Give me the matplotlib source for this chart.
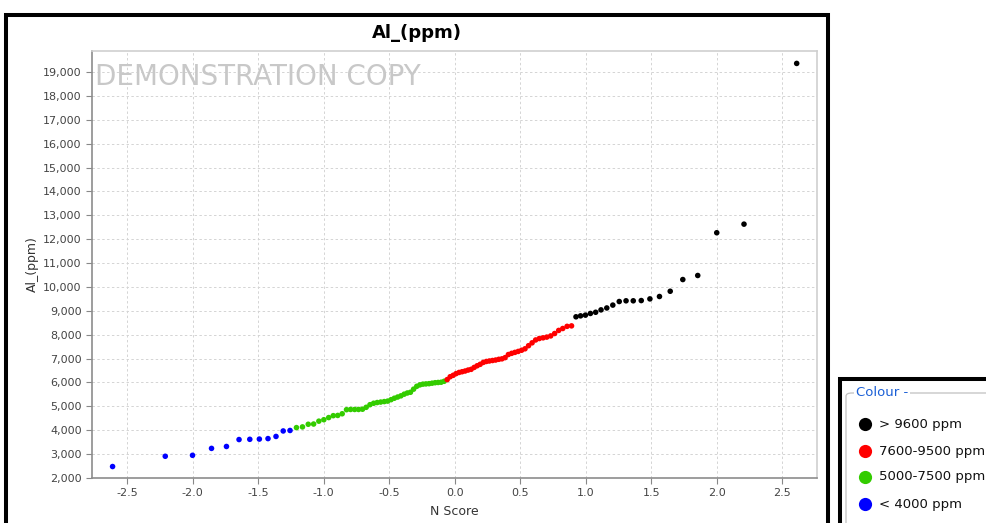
import matplotlib
matplotlib.use("Agg")
import matplotlib.pyplot as plt
from matplotlib.patches import Rectangle, FancyBboxPatch
from matplotlib.lines import Line2D
from matplotlib.ticker import FuncFormatter, MultipleLocator

# N Score (x) and Al_(ppm) (y) per colour class
blue_x = [-2.610, -2.208, -2.000, -1.855, -1.741, -1.645, -1.563, -1.490,
          -1.424, -1.363, -1.308, -1.256]
blue_y = [2480, 2910, 2950, 3240, 3320, 3610, 3620, 3630, 3650, 3740,
          3970, 3990]

green_x = [-1.207, -1.161, -1.117, -1.076, -1.036, -0.998, -0.961, -0.926,
           -0.892, -0.858, -0.825, -0.794, -0.763, -0.733, -0.703, -0.675,
           -0.646, -0.618, -0.591, -0.564, -0.537, -0.511, -0.485, -0.460,
           -0.435, -0.410, -0.385, -0.361, -0.337, -0.313, -0.289, -0.265,
           -0.242, -0.219, -0.195, -0.172, -0.149, -0.126, -0.103, -0.080]
green_y = [4110, 4140, 4250, 4260, 4380, 4440, 4530, 4610, 4620, 4690,
           4860, 4870, 4870, 4870, 4880, 4960, 5070, 5130, 5160, 5180,
           5200, 5220, 5280, 5340, 5390, 5440, 5510, 5560, 5590, 5720,
           5840, 5900, 5930, 5940, 5950, 5970, 5990, 6000, 6010, 6050]

red_x = [-0.057, -0.034, -0.011, 0.011, 0.034, 0.057, 0.080, 0.103,
         0.126, 0.149, 0.172, 0.195, 0.219, 0.242, 0.265, 0.289, 0.313,
         0.337, 0.361, 0.385, 0.410, 0.435, 0.460, 0.485, 0.511, 0.537,
         0.564, 0.591, 0.618, 0.646, 0.675, 0.703, 0.733, 0.763, 0.794,
         0.825, 0.858, 0.892]
red_y = [6120, 6240, 6300, 6370, 6420, 6450, 6480, 6520, 6550, 6630,
         6700, 6760, 6840, 6880, 6900, 6920, 6940, 6970, 6990, 7040,
         7170, 7220, 7260, 7300, 7350, 7410, 7540, 7660, 7780, 7840,
         7870, 7900, 7950, 8050, 8180, 8260, 8350, 8370]

black_x = [0.926, 0.961, 0.998, 1.036, 1.076, 1.117, 1.161, 1.207, 1.256,
           1.308, 1.363, 1.424, 1.490, 1.563, 1.645, 1.741, 1.855, 2.000,
           2.208, 2.610]
black_y = [8750, 8790, 8820, 8890, 8940, 9040, 9120, 9240, 9390, 9420,
           9420, 9430, 9500, 9600, 9820, 10310, 10480, 12270, 12630, 19360]

legend_labels = ["> 9600 ppm", "7600-9500 ppm", "5000-7500 ppm", "< 4000 ppm"]
legend_colors = ["#000000", "#ff0000", "#33cc00", "#0000ff"]

W, H = 987, 523
fig = plt.figure(figsize=(W / 100, H / 100), dpi=100)
fig.patch.set_facecolor("white")

ax = fig.add_axes([92 / W, 1 - 478 / H, (817 - 92) / W, (478 - 51) / H])

for xs, ys, c in [(blue_x, blue_y, "#0000ff"), (green_x, green_y, "#33cc00"),
                  (red_x, red_y, "#ff0000"), (black_x, black_y, "#000000")]:
    ax.scatter(xs, ys, s=16, color=c, edgecolors="none", zorder=3)

ax.set_xlim(-2.767, 2.765)
ax.set_ylim(2000, 19880)
ax.xaxis.set_major_locator(MultipleLocator(0.5))
ax.yaxis.set_major_locator(MultipleLocator(1000))
ax.xaxis.set_major_formatter(FuncFormatter(lambda v, p: f"{v:.1f}"))
ax.yaxis.set_major_formatter(FuncFormatter(lambda v, p: f"{int(v):,}"))
ax.tick_params(labelsize=8, labelcolor="#444444", color="#888888",
               length=4, width=0.8)
ax.grid(True, color="#d4d4d4", linestyle=(0, (2.5, 2.5)), linewidth=0.7)
ax.set_axisbelow(True)
for side in ["left", "bottom"]:
    ax.spines[side].set_color("#8c8c8c")
    ax.spines[side].set_linewidth(1.2)
for side in ["top", "right"]:
    ax.spines[side].set_color("#cfcfcf")
    ax.spines[side].set_linewidth(1.2)

ax.set_xlabel("N Score", fontsize=9, color="#333333", labelpad=5)
ax.set_ylabel("Al_(ppm)", fontsize=9, color="#333333", labelpad=3)

# watermark
ax.text(0.004, 0.94, "DEMONSTRATION COPY", transform=ax.transAxes,
        fontsize=20, color="#c8c8c8", family="DejaVu Sans",
        va="center", ha="left", zorder=1)

# title centred on the chart panel
fig.text(417 / W, 1 - 33 / H, "Al_(ppm)", fontsize=13, fontweight="bold",
         ha="center", va="center")

# black panel frame
fig.add_artist(Rectangle((5.7 / W, -0.05), (828 - 5.7) / W, 1.05 - 15.3 / H,
                         transform=fig.transFigure, fill=False,
                         edgecolor="black", linewidth=2.9))

# legend panel
fig.add_artist(Rectangle((840 / W, -0.05), 0.2, 1.05 - 378.5 / H,
                         transform=fig.transFigure, fill=False,
                         edgecolor="black", linewidth=2.9))
fig.add_artist(FancyBboxPatch((846 / W, -0.05), 0.2, 1.05 - 393 / H,
                              boxstyle="round,pad=0,rounding_size=0.006",
                              transform=fig.transFigure, fill=False,
                              edgecolor="#c0c0c0", linewidth=0.9))
fig.text(856 / W, 1 - 393 / H, "Colour -", fontsize=9.5, color="#1a5fd6",
         ha="left", va="center",
         bbox=dict(facecolor="white", edgecolor="none", pad=1.5))

item_y = [424.3, 451, 476.7, 504.3]
for lab, col, yy in zip(legend_labels, legend_colors, item_y):
    fig.add_artist(Line2D([865 / W], [1 - yy / H], marker="o", markersize=9.5,
                          color=col, markeredgecolor="none",
                          transform=fig.transFigure))
    fig.text(879 / W, 1 - yy / H, lab, fontsize=9.5, color="#111111",
             ha="left", va="center")

fig.savefig("out.png", dpi=100)
